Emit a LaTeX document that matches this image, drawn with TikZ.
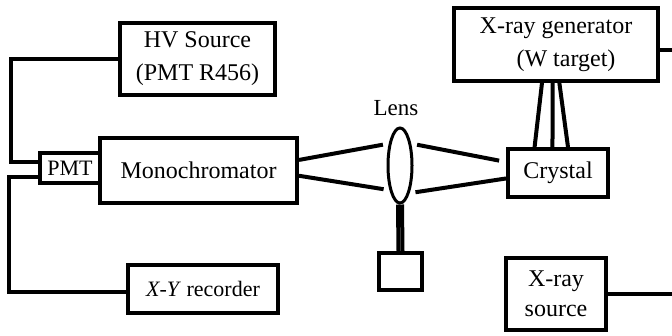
\documentclass[tikz,border=0pt]{standalone}
\usepackage{fontspec}
\setmainfont{Liberation Serif}
\usetikzlibrary{shapes.geometric}
\tikzset{
    unit/.style={draw, line width=4pt, inner sep=0pt, align=center, font=\fontsize{24}{33}\selectfont},
    wire/.style={line width=4pt},
    beam/.style={line width=4pt}
}
\begin{document}
\begin{tikzpicture}[x=1pt,y=-1pt]
    \useasboundingbox (0,0) rectangle (672,335);
    \node[unit, minimum width=155, minimum height=72] (hv) at (197.5,59) {HV Source\\(PMT R456)};
    \node[unit, minimum width=197, minimum height=65] (mono) at (198.5,170.5) {Monochromator};
    \node[unit, minimum width=60, minimum height=30, font=\fontsize{22}{33}\selectfont] (pmt) at (70,168) {PMT};
    \node[unit, minimum width=150, minimum height=48, font=\fontsize{22}{33}\selectfont] (recorder) at (203,289) {\textit{X-Y} recorder};
    \node[unit, minimum width=204, minimum height=73] (gen) at (556,44.5) {X-ray generator\\\hspace*{20pt}(W target)};
    \node[unit, minimum width=100, minimum height=48] (crystal) at (558,173) {Crystal};
    \node[unit, minimum width=100, minimum height=72] (source) at (556,294) {X-ray\\[-3pt]source};
    \node[unit, minimum width=43, minimum height=37] (mount) at (400.5,271.5) {};
    \node[draw, shape=ellipse, line width=3pt, minimum width=24, minimum height=75, inner sep=0pt] (lens) at (400,165.5) {};
    \node[font=\fontsize{23}{26}\selectfont] (lenslabel) at (396,108) {Lens};
    \coordinate (leftbus) at (11,162);
    \coordinate (lowbus) at (9,176);
    \coordinate (genend) at (672,50);
    \coordinate (sourceend) at (672,294);
    \draw[wire] (hv.west) -| (leftbus |- pmt.169) -- (pmt.169);
    \draw[wire] (pmt.195) -- (lowbus |- pmt.195) |- (recorder.182);
    \draw[wire] (gen.357) -- (genend |- gen.357);
    \draw[wire] (source.east) -- (sourceend);
    \draw[beam, shorten >=6pt] (mono.6) -- (lens.117);
    \draw[beam, shorten >=6pt] (mono.357) -- (lens.247);
    \draw[beam, shorten <=6pt, shorten >=7pt] (lens.63) -- (crystal.168);
    \draw[beam, shorten <=6pt] (lens.289) -- (crystal.186);
    \draw[beam] (gen.250) -- (crystal.132);
    \draw[beam] (gen.265) -- (crystal.102);
    \draw[beam] (gen.275) -- (crystal.69);
    \foreach \s in {-2,2}
        \draw[wire] ([xshift=\s]lens.south) -- ([xshift=\s]mount.north);
\end{tikzpicture}
\end{document}
